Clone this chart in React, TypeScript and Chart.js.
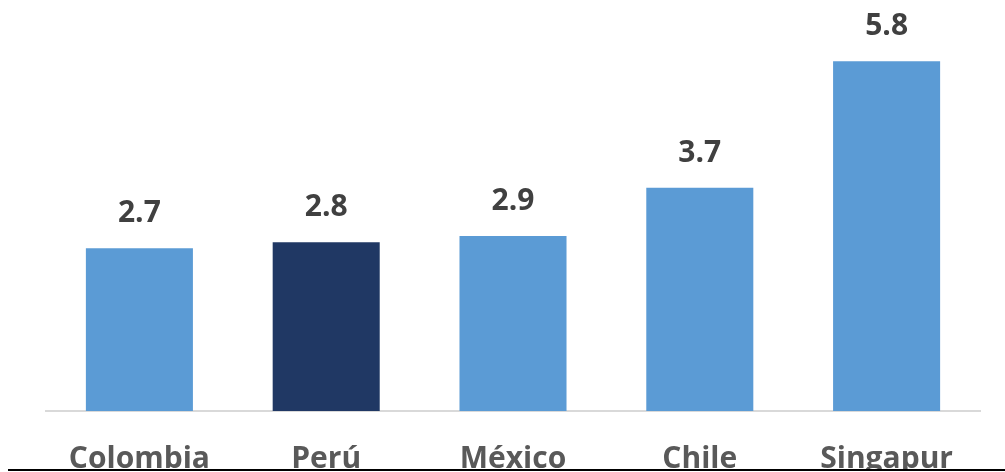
import React, { useEffect, useRef } from "react";
import { Chart, registerables } from "chart.js";

Chart.register(...registerables);

const categories = ["Colombia", "Perú", "México", "Chile", "Singapur"];
const values = [2.7, 2.8, 2.9, 3.7, 5.8];
const barColors = ["#5B9BD5", "#203864", "#5B9BD5", "#5B9BD5", "#5B9BD5"];

const FONT = "'Open Sans', 'Noto Sans', sans-serif";

const valueLabels = {
  id: "valueLabels",
  afterDatasetsDraw(chart: any) {
    const ctx = chart.ctx;
    const meta = chart.getDatasetMeta(0);
    ctx.save();
    ctx.font = `bold 30px ${FONT}`;
    ctx.fillStyle = "#404040";
    ctx.textAlign = "center";
    ctx.textBaseline = "alphabetic";
    meta.data.forEach((bar: any, i: number) => {
      ctx.fillText(values[i].toFixed(1), bar.x, bar.y - 26);
    });
    ctx.restore();
  },
};

export default function App() {
  const ref = useRef<HTMLCanvasElement>(null);
  useEffect(() => {
    const chart = new Chart(ref.current!, {
      type: "bar",
      data: {
        labels: categories,
        datasets: [
          {
            data: values,
            backgroundColor: barColors,
            borderWidth: 0,
            categoryPercentage: 1,
            barPercentage: 0.573,
          },
        ],
      },
      options: {
        responsive: false,
        animation: false,
        devicePixelRatio: 1,
        layout: { padding: { left: 46, right: 25, top: 19, bottom: 0 } },
        plugins: { legend: { display: false }, tooltip: { enabled: false } },
        scales: {
          y: { display: false, min: 0, max: 6.5 },
          x: {
            grid: { display: false, drawTicks: false },
            border: { display: true, color: "#D9D9D9", width: 2 },
            ticks: {
              color: "#595959",
              font: { family: FONT, size: 30, weight: "bold" },
              padding: 30,
              maxRotation: 0,
              autoSkip: false,
            },
            afterFit(scale: any) {
              scale.height = 79;
            },
          },
        },
      },
      plugins: [valueLabels],
    });
    return () => chart.destroy();
  }, []);
  return (
    <div style={{ position: "absolute", left: 0, top: 0, width: 1005, height: 472, background: "#fff", overflow: "hidden" }}>
      <div style={{ position: "absolute", left: 0, top: 0, width: 1005, height: 470, overflow: "hidden" }}>
        <canvas ref={ref} width={1005} height={490} style={{ width: 1005, height: 490, display: "block" }} />
      </div>
      <div style={{ position: "absolute", left: 8, top: 469, width: 997, height: 2, background: "#000" }} />
    </div>
  );
}
